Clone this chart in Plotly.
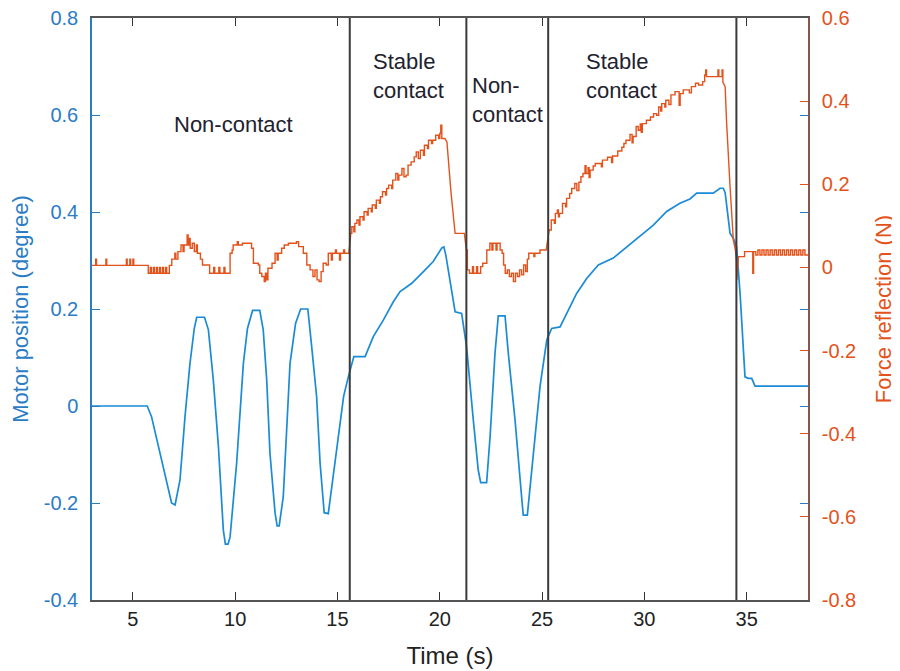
import plotly.graph_objects as go

# ---------------- data ----------------
# Motor position (degree) -- left axis
motor_t = [3.0, 5.7, 5.91, 6.32, 6.5, 6.89, 7.06, 7.3, 7.55, 7.79, 8.0, 8.12, 8.5, 8.69, 8.93,
           9.18, 9.42, 9.52, 9.65, 9.75, 10.07, 10.4, 10.6, 10.85, 11.2, 11.37, 11.54, 11.7,
           11.95, 12.05, 12.15, 12.35, 12.68, 12.95, 13.2, 13.55, 13.74, 13.98, 14.15, 14.35,
           14.55, 14.96, 15.3, 15.53, 15.77, 15.8, 16.35, 16.75, 17.24, 17.73, 18.06, 18.63,
           19.2, 19.68, 20.1, 20.2, 20.3, 20.75, 21.07, 21.31, 21.64, 21.88, 22.0, 22.29,
           22.46, 22.7, 22.86, 23.19, 23.35, 23.68, 24.0, 24.08, 24.28, 24.49, 24.9, 25.23,
           25.47, 25.88, 26.2, 26.69, 27.18, 27.75, 28.48, 29.14, 29.79, 30.44, 31.09, 31.74,
           32.23, 32.56, 33.37, 33.7, 33.86, 33.95, 34.19, 34.35, 34.51, 34.68, 34.92, 35.08,
           35.25, 35.41, 38.0]
motor_deg = [0.0, 0.0, -0.022, -0.098, -0.13, -0.2, -0.204, -0.153, -0.02, 0.088, 0.16, 0.183,
             0.183, 0.157, 0.054, -0.084, -0.256, -0.285, -0.285, -0.27, -0.118, 0.088, 0.16,
             0.197, 0.197, 0.157, 0.054, -0.098, -0.221, -0.247, -0.247, -0.187, 0.088, 0.17,
             0.2, 0.2, 0.122, 0.019, -0.118, -0.22, -0.222, -0.084, 0.02, 0.06, 0.098, 0.102,
             0.102, 0.143, 0.177, 0.215, 0.236, 0.253, 0.277, 0.298, 0.326, 0.328, 0.31, 0.194,
             0.191, 0.122, -0.029, -0.132, -0.158, -0.158, -0.063, 0.109, 0.186, 0.186, 0.109,
             -0.029, -0.187, -0.225, -0.225, -0.132, 0.04, 0.136, 0.16, 0.163, 0.191, 0.232,
             0.263, 0.291, 0.305, 0.328, 0.349, 0.373, 0.401, 0.418, 0.427, 0.439, 0.439,
             0.449, 0.449, 0.44, 0.356, 0.346, 0.328, 0.232, 0.06, 0.057, 0.057, 0.041, 0.041]

# Force reflection (N) -- right axis
force_t = [
    3.0, 3.18, 3.18, 3.22, 3.22, 3.68, 3.68, 3.72, 3.72, 4.68, 4.68, 4.72, 4.72, 4.85, 4.85, 4.89,
    4.89, 5.0, 5.0, 5.04, 5.04, 5.75,
    5.75, 5.85, 5.85, 5.9, 5.9, 6.0, 6.0, 6.05, 6.05, 6.15, 6.15, 6.2, 6.2, 6.3, 6.3, 6.35, 6.35,
    6.45, 6.45, 6.5, 6.5, 6.6, 6.6, 6.65, 6.65, 6.78, 6.78, 6.9,
    6.9, 7.05, 7.05, 7.1, 7.1, 7.2, 7.2, 7.35, 7.35, 7.45, 7.45, 7.5, 7.5, 7.65, 7.65, 7.7, 7.7,
    7.75, 7.75, 7.8, 7.8, 7.9, 7.9, 8.0, 8.0, 8.1, 8.1, 8.15, 8.15, 8.3, 8.3, 8.4, 8.4, 8.75,
    8.75, 8.95, 8.95, 9.0, 9.0, 9.2, 9.2, 9.25, 9.25, 9.45, 9.45, 9.5, 9.5, 9.75,
    9.75, 9.85, 9.85, 9.9, 9.9, 10.1, 10.1, 10.15, 10.15, 10.35, 10.35, 10.8, 10.8, 10.89, 10.89,
    11.13, 11.13, 11.2, 11.2, 11.3, 11.3, 11.42, 11.42, 11.48, 11.48, 11.55, 11.55, 11.6, 11.6,
    11.8, 11.8, 11.95, 11.95, 12.05, 12.05, 12.1, 12.1, 12.27, 12.27, 12.4, 12.4, 12.6, 12.6,
    13.0, 13.0, 13.1, 13.1, 13.33, 13.33, 13.5, 13.5, 13.66, 13.66, 13.8, 13.8, 13.9, 13.9, 14.0,
    14.0, 14.1, 14.1, 14.2, 14.2, 14.3, 14.3, 14.45, 14.45, 14.55, 14.55, 14.7, 14.7, 14.75,
    14.75, 14.9, 14.9, 14.95, 14.95, 15.1, 15.1, 15.15, 15.15, 15.3, 15.3, 15.35, 15.35, 15.55,
    15.61, 15.65, 15.7, 15.7, 15.8, 15.8, 15.85, 15.85, 15.95, 15.95, 16.05, 16.05, 16.1, 16.1,
    16.25, 16.25, 16.3, 16.3, 16.45, 16.45, 16.5, 16.5, 16.65, 16.65, 16.7, 16.7, 16.85, 16.85,
    16.9, 16.9, 17.05, 17.05, 17.1, 17.1, 17.2, 17.2, 17.35, 17.35, 17.4, 17.4, 17.5, 17.5, 17.65,
    17.65, 17.7, 17.7, 17.85, 17.85, 17.95, 17.95, 18.0, 18.0, 18.15, 18.15, 18.25, 18.25, 18.35,
    18.35, 18.45, 18.45, 18.6, 18.6, 18.75, 18.75, 18.85, 18.85, 18.95, 18.95, 19.05, 19.05, 19.2,
    19.2, 19.25, 19.25, 19.4, 19.4, 19.45, 19.45, 19.6, 19.6, 19.65, 19.65, 19.8, 19.8, 19.95,
    19.95, 20.0, 20.0, 20.05, 20.05, 20.1, 20.1, 20.25, 20.35, 20.55, 20.72, 20.75, 21.2, 21.25,
    21.3, 21.35,
    21.35, 21.45, 21.45, 21.6, 21.6, 21.65, 21.65, 21.8, 21.8, 21.85, 21.85, 22.0, 22.0, 22.1,
    22.1, 22.3, 22.3, 22.45, 22.45, 22.55, 22.55, 22.6, 22.6, 22.75, 22.75, 22.8, 22.8, 22.95,
    22.95, 23.05, 23.05, 23.12, 23.12, 23.2, 23.2, 23.3, 23.3, 23.4, 23.4, 23.5, 23.5, 23.6, 23.6,
    23.7, 23.7, 23.8, 23.8, 23.9, 23.9, 24.0, 24.0, 24.1, 24.1, 24.2, 24.2, 24.28, 24.28, 24.35,
    24.35, 24.6, 24.6, 24.65, 24.65, 24.9, 24.9, 25.2,
    25.3, 25.35, 25.45, 25.45, 25.6, 25.6, 25.65, 25.65, 25.75, 25.75, 25.8, 25.8, 25.85, 25.85,
    26.0, 26.0, 26.15, 26.15, 26.2, 26.2, 26.35, 26.35, 26.45, 26.45, 26.6, 26.6, 26.7, 26.7,
    26.8, 26.8, 26.9, 26.9, 27.0, 27.0, 27.1, 27.1, 27.15, 27.15, 27.25, 27.25, 27.3, 27.3, 27.35,
    27.35, 27.5, 27.5, 27.6, 27.6, 27.9, 27.9, 27.95, 27.95, 28.2, 28.2, 28.4, 28.4, 28.45, 28.45,
    28.7, 28.7, 28.9, 28.9, 29.0, 29.0, 29.1, 29.1, 29.3, 29.3, 29.4, 29.4, 29.45, 29.45, 29.6,
    29.6, 29.7, 29.7, 29.8, 29.8, 29.85, 29.85, 29.9, 29.9, 30.1, 30.1, 30.3, 30.3, 30.45, 30.45,
    30.6, 30.6, 30.7, 30.7, 30.8, 30.8, 30.85, 30.85, 31.0, 31.0, 31.05, 31.05, 31.2, 31.2, 31.3,
    31.3, 31.5, 31.5, 31.7, 31.7, 31.75, 31.75, 31.9, 31.9, 32.2, 32.2, 32.3, 32.3, 32.5, 32.5,
    32.65, 32.65, 32.85, 32.85, 32.95, 32.95, 33.0, 33.0, 33.04, 33.04, 33.6, 33.6, 33.64, 33.64,
    33.8, 33.8, 33.84, 33.84, 33.95, 34.02, 34.19, 34.3, 34.35, 34.45, 34.5, 34.52, 34.55, 34.6,
    34.9, 34.9, 35.3, 35.3, 35.34, 35.34,
    35.45, 35.45, 35.55, 35.55, 35.65, 35.65, 35.75, 35.75, 35.85, 35.85, 35.95, 35.95, 36.05,
    36.05, 36.15, 36.15, 36.25, 36.25, 36.35, 36.35, 36.45, 36.45, 36.55, 36.55, 36.65, 36.65,
    36.75, 36.75, 36.85, 36.85, 36.95, 36.95, 37.05, 37.05, 37.15, 37.15, 37.25, 37.25, 37.35,
    37.35, 37.45, 37.45, 37.55, 37.55, 37.65, 37.65, 37.75, 37.75, 37.85, 37.85, 38.0]
force_n = [
    0.005, 0.005, 0.02, 0.02, 0.005, 0.005, 0.02, 0.02, 0.005, 0.005, 0.02, 0.02, 0.005, 0.005,
    0.02, 0.02, 0.005, 0.005, 0.02, 0.02, 0.005, 0.005,
    -0.014, -0.014, 0.0, 0.0, -0.014, -0.014, 0.0, 0.0, -0.014, -0.014, 0.0, 0.0, -0.014, -0.014,
    0.0, 0.0, -0.014, -0.014, 0.0, 0.0, -0.014, -0.014, 0.0, 0.0, -0.014, -0.014, 0.005, 0.005,
    0.02, 0.02, 0.034, 0.034, 0.02, 0.02, 0.038, 0.038, 0.054, 0.054, 0.038, 0.038, 0.054, 0.054,
    0.078, 0.078, 0.054, 0.054, 0.07, 0.07, 0.046, 0.046, 0.058, 0.058, 0.038, 0.038, 0.054,
    0.054, 0.034, 0.034, 0.02, 0.02, 0.006, 0.006,
    -0.014, -0.014, 0.0, 0.0, -0.014, -0.014, 0.0, 0.0, -0.014, -0.014, 0.0, 0.0, -0.014, -0.014,
    0.034, 0.034, 0.042, 0.042, 0.054, 0.054, 0.062, 0.062, 0.054, 0.054, 0.058, 0.058, 0.046,
    0.046, 0.01, 0.01, 0.006, 0.006, -0.014, -0.014, -0.022, -0.022, -0.034, -0.034, -0.014,
    -0.014, -0.03, -0.03, -0.002, -0.002, 0.01, 0.01, 0.034, 0.034, 0.018, 0.018, 0.034, 0.034,
    0.046, 0.046, 0.054, 0.054, 0.058, 0.058, 0.062, 0.062, 0.05, 0.05, 0.034, 0.034, 0.006,
    0.006, -0.006, -0.006, -0.022, -0.022, -0.006, -0.006, -0.03, -0.03, -0.034, -0.034, -0.01,
    -0.01, 0.01, 0.01, 0.006, 0.006, 0.034, 0.034, 0.018, 0.018, 0.034, 0.034, 0.042, 0.042,
    0.034, 0.034, 0.018, 0.018, 0.034, 0.034, 0.042, 0.042, 0.034, 0.034,
    0.06, 0.082, 0.082, 0.098, 0.098, 0.086, 0.086, 0.106, 0.106, 0.114, 0.114, 0.102, 0.102,
    0.122, 0.122, 0.114, 0.114, 0.134, 0.134, 0.126, 0.126, 0.142, 0.142, 0.134, 0.134, 0.15,
    0.15, 0.142, 0.142, 0.162, 0.162, 0.154, 0.154, 0.17, 0.17, 0.182, 0.182, 0.174, 0.174, 0.19,
    0.19, 0.198, 0.198, 0.19, 0.19, 0.21, 0.21, 0.226, 0.226, 0.21, 0.21, 0.222, 0.222, 0.238,
    0.238, 0.218, 0.218, 0.222, 0.222, 0.246, 0.246, 0.254, 0.254, 0.266, 0.266, 0.278, 0.278,
    0.262, 0.262, 0.282, 0.282, 0.27, 0.27, 0.294, 0.294, 0.286, 0.286, 0.306, 0.306, 0.298,
    0.298, 0.306, 0.306, 0.318, 0.318, 0.31, 0.31, 0.322, 0.322, 0.342, 0.342, 0.31, 0.31, 0.302,
    0.18, 0.098, 0.082, 0.082, 0.06, 0.042, 0.042,
    -0.006, -0.006, -0.014, -0.014, 0.002, 0.002, -0.014, -0.014, 0.002, 0.002, -0.014, -0.014,
    0.002, 0.002, 0.01, 0.01, 0.042, 0.042, 0.058, 0.058, 0.042, 0.042, 0.058, 0.058, 0.042,
    0.042, 0.058, 0.058, 0.042, 0.042, 0.034, 0.034, 0.006, 0.006, -0.014, -0.014, -0.006,
    -0.006, -0.022, -0.022, -0.014, -0.014, -0.034, -0.034, -0.014, -0.014, -0.022, -0.022,
    -0.006, -0.006, -0.018, -0.018, 0.006, 0.006, -0.01, -0.01, 0.02, 0.02, 0.034, 0.034, 0.026,
    0.026, 0.034, 0.034, 0.042, 0.042,
    0.075, 0.09, 0.09, 0.114, 0.114, 0.106, 0.106, 0.13, 0.13, 0.138, 0.138, 0.122, 0.122, 0.13,
    0.13, 0.154, 0.154, 0.146, 0.146, 0.166, 0.166, 0.178, 0.178, 0.19, 0.19, 0.202, 0.202, 0.185,
    0.185, 0.205, 0.205, 0.218, 0.218, 0.226, 0.226, 0.245, 0.245, 0.226, 0.226, 0.24, 0.24,
    0.216, 0.216, 0.234, 0.234, 0.244, 0.244, 0.25, 0.25, 0.242, 0.242, 0.258, 0.258, 0.265,
    0.265, 0.252, 0.252, 0.268, 0.268, 0.28, 0.28, 0.289, 0.289, 0.298, 0.298, 0.306, 0.306,
    0.32, 0.32, 0.3, 0.3, 0.315, 0.315, 0.339, 0.339, 0.33, 0.33, 0.345, 0.345, 0.325, 0.325,
    0.346, 0.346, 0.354, 0.354, 0.362, 0.362, 0.37, 0.37, 0.366, 0.366, 0.386, 0.386, 0.376,
    0.376, 0.394, 0.394, 0.386, 0.386, 0.402, 0.402, 0.392, 0.392, 0.415, 0.415, 0.423, 0.423,
    0.39, 0.39, 0.418, 0.418, 0.427, 0.427, 0.42, 0.42, 0.435, 0.435, 0.443, 0.443, 0.439, 0.439,
    0.447, 0.447, 0.463, 0.463, 0.475, 0.475, 0.459, 0.459, 0.475, 0.475, 0.459, 0.459, 0.475,
    0.475, 0.445, 0.435, 0.35, 0.194, 0.098, 0.066, 0.042, 0.018, -0.03, -0.006, 0.026, 0.026,
    0.038, 0.038, -0.014, -0.014, 0.038,
    0.038, 0.03, 0.03, 0.042, 0.042, 0.03, 0.03, 0.042, 0.042, 0.03, 0.03, 0.042, 0.042, 0.03,
    0.03, 0.042, 0.042, 0.03, 0.03, 0.042, 0.042, 0.03, 0.03, 0.042, 0.042, 0.03, 0.03, 0.042,
    0.042, 0.03, 0.03, 0.042, 0.042, 0.03, 0.03, 0.042, 0.042, 0.03, 0.03, 0.042, 0.042, 0.03,
    0.03, 0.042, 0.042, 0.03, 0.03, 0.042, 0.042, 0.03, 0.03, 0.035, 0.035]

phase_boundaries = [15.6, 21.3, 25.3, 34.5]
phase_labels = ["Non-contact", "Stable<br>contact", "Non-<br>contact", "Stable<br>contact"]
phase_label_t = [9.9, 18.45, 23.3, 28.9]
phase_label_y = [0.58, 0.68, 0.63, 0.68]

x_ticks = [5, 10, 15, 20, 25, 30, 35]
left_ticks = [-0.4, -0.2, 0, 0.2, 0.4, 0.6, 0.8]
left_tick_text = ["-0.4", "-0.2", "0", "0.2", "0.4", "0.6", "0.8"]
right_ticks = [-0.8, -0.6, -0.4, -0.2, 0, 0.2, 0.4, 0.6]
right_tick_text = ["-0.8", "-0.6", "-0.4", "-0.2", "0", "0.2", "0.4", "0.6"]

BLUE = "#1a8bd6"
BLUE_AX = "#2a7cc4"
ORANGE = "#e4521b"
FONT = "Liberation Sans, Arial, sans-serif"

# ---------------- figure ----------------
fig = go.Figure()
fig.add_trace(go.Scatter(x=motor_t, y=motor_deg, mode="lines", yaxis="y",
                         line=dict(color=BLUE, width=1.7), showlegend=False))
fig.add_trace(go.Scatter(x=force_t, y=force_n, mode="lines", yaxis="y2",
                         line=dict(color=ORANGE, width=1.4), showlegend=False))

for b in phase_boundaries:
    fig.add_shape(type="line", xref="x", yref="paper", x0=b, x1=b, y0=0, y1=1,
                  line=dict(color="#3a3a3a", width=2))

for txt, tx, ty in zip(phase_labels, phase_label_t, phase_label_y):
    fig.add_annotation(x=tx, y=ty, xref="x", yref="y", text=txt, showarrow=False,
                       font=dict(family=FONT, size=22, color="#22222e"), align="left")

# the page body has an 8px margin, so the figure is sized/offset to compensate
fig.update_layout(
    width=892, height=663,
    margin=dict(l=84, r=92, t=10, b=71, autoexpand=False),
    paper_bgcolor="white", plot_bgcolor="white",
    font=dict(family=FONT),
    xaxis=dict(range=[3, 38], tickvals=x_ticks, ticks="inside", ticklen=8, tickwidth=1,
               tickcolor="#333", showline=True, linecolor="#555", linewidth=1.5,
               mirror="ticks", showgrid=False, zeroline=False, automargin=False,
               ticklabeloverflow="allow",
               tickfont=dict(size=20, color="#222"),
               title=dict(text="Time (s)", font=dict(size=24, color="#222"), standoff=18)),
    yaxis=dict(range=[-0.4, 0.8], tickvals=left_ticks, ticktext=left_tick_text,
               ticks="inside", ticklen=8, tickcolor=BLUE_AX, showline=True,
               linecolor=BLUE_AX, linewidth=1.5, mirror="ticks", showgrid=False,
               zeroline=False, automargin=False, ticklabelstandoff=8,
               ticklabeloverflow="allow",
               tickfont=dict(size=20, color=BLUE_AX),
               title=dict(text="Motor position (degree)", font=dict(size=22, color=BLUE_AX),
                          standoff=12)),
    yaxis2=dict(range=[-0.8, 0.6], tickvals=right_ticks, ticktext=right_tick_text,
                overlaying="y", side="right", ticks="inside", ticklen=8, tickcolor=ORANGE,
                showline=True, linecolor="#86574c", linewidth=1.5, showgrid=False,
                zeroline=False, automargin=False, ticklabelstandoff=8,
                ticklabeloverflow="allow",
                tickfont=dict(size=20, color=ORANGE),
                title=dict(text="Force reflection (N)", font=dict(size=22, color=ORANGE),
                           standoff=20)),
)

fig.write_html("out.html")
